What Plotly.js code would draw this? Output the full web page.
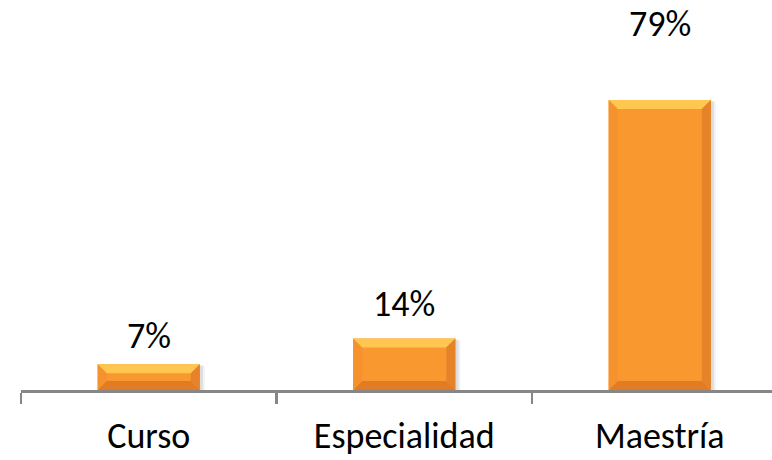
<!DOCTYPE html>
<html>
<head>
<meta charset="utf-8">
<script src="https://cdn.plot.ly/plotly-3.0.1.min.js"></script>
<style>html,body{margin:0;padding:0;background:#fff;}#chart{width:772px;height:460px;}</style>
</head>
<body>
<div id="chart"></div>
<script>
// ---- data ----
const categories = ['Curso', 'Especialidad', 'Maestría'];
const values = [7, 14, 79];
const valueLabels = ['7%', '14%', '79%'];

// ---- style / layout constants ----
const W = 772, H = 460;
const M = {l: 21, r: 0, t: 78, b: 70};
const catPx = 255.5;                 // pixels per category
const yMax = 85;
const barW = 0.4;
const FONT = 'Carlito, Calibri, Lato, sans-serif';
const FSIZE = 36;
const labelLiftPx = [28, 35, 76];    // label centre above bar top (px)
const bevelPx = 9;

const plotW = W - M.l - M.r, plotH = H - M.t - M.b;
const xRange = [-0.5, -0.5 + plotW / catPx];
const pxY = plotH / yMax;
const BX = bevelPx / catPx, BY = bevelPx / pxY;

const shapes = [];
values.forEach((v, i) => {
  const xl = i - barW / 2, xr = i + barW / 2;
  const px = 1 / catPx, py = 1 / pxY;
  // soft shadow (two faint layers)
  shapes.push({type: 'rect', xref: 'x', yref: 'y', layer: 'below', x0: xl + 2 * px, x1: xr + 5 * px, y0: -3 * py, y1: v - 2 * py,
    fillcolor: 'rgba(150,150,150,0.12)', line: {width: 0}});
  shapes.push({type: 'rect', xref: 'x', yref: 'y', layer: 'below', x0: xl + 1 * px, x1: xr + 3 * px, y0: -1.5 * py, y1: v - 1 * py,
    fillcolor: 'rgba(130,130,130,0.18)', line: {width: 0}});
  const poly = (pts, color) => shapes.push({type: 'path', xref: 'x', yref: 'y', layer: 'above',
    path: 'M' + pts.map(p => p[0] + ',' + p[1]).join(' L') + ' Z', fillcolor: color, line: {width: 0}});
  poly([[xl, v], [xr, v], [xr - BX, v - BY], [xl + BX, v - BY]], '#FFC650');
  poly([[xl, 0], [xr, 0], [xr - BX, BY], [xl + BX, BY]], '#E17C24');
  poly([[xl, 0], [xl, v], [xl + BX, v - BY], [xl + BX, BY]], '#F6922E');
  poly([[xr, 0], [xr, v], [xr - BX, v - BY], [xr - BX, BY]], '#E5822A');
});

const annotations = values.map((v, i) => ({
  x: i, y: v, xref: 'x', yref: 'y', text: valueLabels[i], showarrow: false,
  yanchor: 'middle', yshift: labelLiftPx[i],
  font: {family: FONT, size: FSIZE, color: '#000'}
}));

const trace = {
  type: 'bar', x: categories, y: values, width: barW,
  marker: {color: '#F8982F', line: {width: 0}},
  hoverinfo: 'none', cliponaxis: false
};

const layout = {
  width: W, height: H, margin: M,
  paper_bgcolor: '#fff', plot_bgcolor: '#fff',
  showlegend: false,
  xaxis: {
    type: 'category', range: xRange, tickson: 'boundaries',
    ticks: 'outside', ticklen: 11, tickwidth: 2.5, tickcolor: '#878787',
    showline: true, linecolor: '#878787', linewidth: 2.5,
    showgrid: false, zeroline: false,
    tickfont: {family: FONT, size: FSIZE, color: '#000'}, ticklabelstandoff: 12
  },
  yaxis: {range: [0, yMax], visible: false, showgrid: false, zeroline: false},
  shapes: shapes, annotations: annotations
};

Plotly.newPlot('chart', [trace], layout, {staticPlot: true, displayModeBar: false});
</script>
</body>
</html>
